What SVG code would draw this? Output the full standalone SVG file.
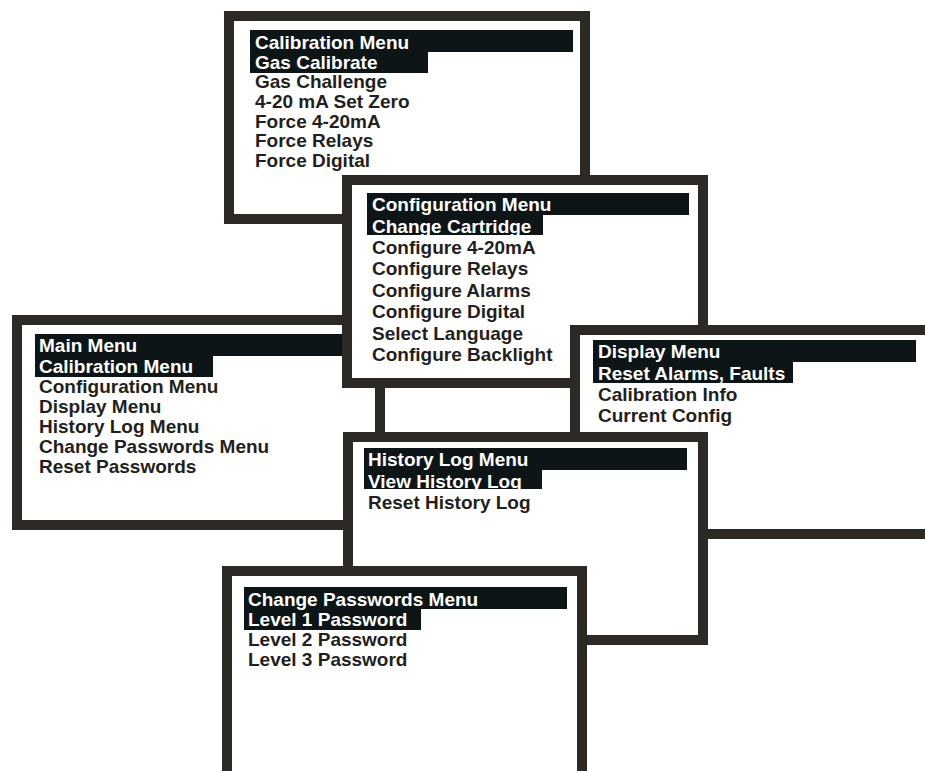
<svg xmlns="http://www.w3.org/2000/svg" width="925" height="771" viewBox="0 0 925 771">
<style>
.frame{fill:#fff;stroke:#2d2a25;stroke-width:10}
.bar{fill:#0d1517}
.t{font-family:"Liberation Sans",Arial,Helvetica,sans-serif;font-weight:bold;font-size:19px;fill:#231f20}
.w{fill:#fff}
</style>
<rect width="925" height="771" fill="#fff"/>
<g id="calibration-menu">
<rect class="frame" x="229" y="16" width="356" height="203"/>
<rect class="bar" x="250" y="30" width="323" height="22"/>
<rect class="bar" x="250" y="52" width="178" height="21"/>
<text class="t w" x="255" y="49">Calibration Menu</text>
<text class="t w" x="255" y="69">Gas Calibrate</text>
<text class="t" x="255" y="88">Gas Challenge</text>
<text class="t" x="255" y="108">4-20 mA Set Zero</text>
<text class="t" x="255" y="128">Force 4-20mA</text>
<text class="t" x="255" y="147">Force Relays</text>
<text class="t" x="255" y="167">Force Digital</text>
</g>
<g id="main-menu">
<rect class="frame" x="17" y="320" width="363" height="205"/>
<rect class="bar" x="35" y="334" width="325" height="22"/>
<rect class="bar" x="35" y="356" width="178" height="21"/>
<text class="t w" x="39" y="352">Main Menu</text>
<text class="t w" x="39" y="373">Calibration Menu</text>
<text class="t" x="39" y="393">Configuration Menu</text>
<text class="t" x="39" y="413">Display Menu</text>
<text class="t" x="39" y="433">History Log Menu</text>
<text class="t" x="39" y="453">Change Passwords Menu</text>
<text class="t" x="39" y="473">Reset Passwords</text>
</g>
<g id="configuration-menu">
<rect class="frame" x="347" y="180" width="356" height="203"/>
<rect class="bar" x="367" y="193" width="322" height="22"/>
<rect class="bar" x="367" y="215" width="176" height="20"/>
<text class="t w" x="372" y="211">Configuration Menu</text>
<text class="t w" x="372" y="233">Change Cartridge</text>
<text class="t" x="372" y="254">Configure 4-20mA</text>
<text class="t" x="372" y="275">Configure Relays</text>
<text class="t" x="372" y="297">Configure Alarms</text>
<text class="t" x="372" y="318">Configure Digital</text>
<text class="t" x="372" y="340">Select Language</text>
<text class="t" x="372" y="361">Configure Backlight</text>
</g>
<g id="display-menu">
<rect class="frame" x="575" y="330" width="400" height="204"/>
<rect class="bar" x="593" y="340" width="323" height="22"/>
<rect class="bar" x="593" y="362" width="200" height="21"/>
<text class="t w" x="598" y="358">Display Menu</text>
<text class="t w" x="598" y="380">Reset Alarms, Faults</text>
<text class="t" x="598" y="401">Calibration Info</text>
<text class="t" x="598" y="422">Current Config</text>
</g>
<g id="history-log-menu">
<rect class="frame" x="348" y="437" width="355" height="203"/>
<rect class="bar" x="364" y="448" width="323" height="22"/>
<rect class="bar" x="364" y="470" width="178" height="19"/>
<text class="t w" x="368" y="466">History Log Menu</text>
<text class="t w" x="368" y="488">View History Log</text>
<text class="t" x="368" y="509">Reset History Log</text>
</g>
<g id="change-passwords-menu">
<rect class="frame" x="227" y="571" width="355" height="250"/>
<rect class="bar" x="244" y="587" width="323" height="22"/>
<rect class="bar" x="244" y="609" width="177" height="21"/>
<text class="t w" x="248" y="606">Change Passwords Menu</text>
<text class="t w" x="248" y="626">Level 1 Password</text>
<text class="t" x="248" y="646">Level 2 Password</text>
<text class="t" x="248" y="666">Level 3 Password</text>
</g>
</svg>
